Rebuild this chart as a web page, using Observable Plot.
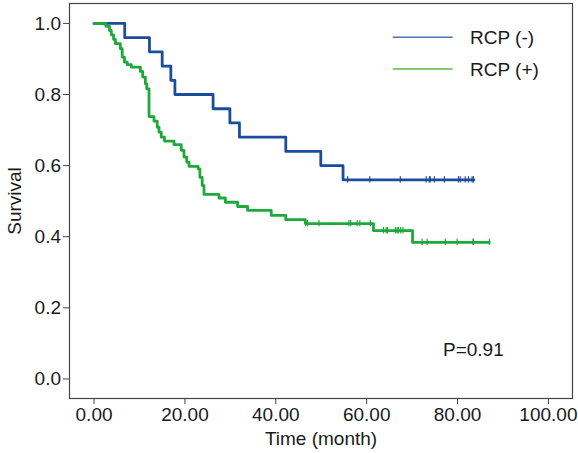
<!DOCTYPE html>
<html><head><meta charset="utf-8">
<script src="https://cdn.jsdelivr.net/npm/d3@7"></script>
<script src="https://cdn.jsdelivr.net/npm/@observablehq/plot@0.6"></script>
<style>body{margin:0;background:#fff} svg{display:block}</style>
</head><body><div id="chart"></div>
<script>
// RCP (-) group
const blueTimes = [0, 6.75, 12.2, 15.0, 16.9, 17.8, 26.2, 29.9, 32.0, 42.2, 49.9, 54.8, 83.6];
const blueSurv  = [1.0, 0.96, 0.92, 0.88, 0.84, 0.80, 0.76, 0.72, 0.68, 0.64, 0.60, 0.56, 0.56];
const blueCensor = [55.8, 60.7, 67.4, 73.1, 73.8, 74.0, 74.9, 77.1, 80.2, 80.6, 81.7, 82.4, 83.2, 83.5];

// RCP (+) group
const greenTimes = [0, 2.6, 3.4, 3.8, 4.3, 4.7, 5.8, 6.2, 6.7, 7.3, 8.2, 10.2, 10.7, 11.3, 11.6, 12.1, 13.2, 13.9, 14.3, 14.8, 15.5, 17.6, 19.2, 19.8, 20.4, 20.9, 22.9, 23.3, 23.8, 24.2, 27.5, 28.9, 31.6, 33.8, 39.0, 42.2, 46.5, 61.5, 70.1, 87.0];
const greenSurv  = [1.0, 0.992, 0.980, 0.968, 0.955, 0.943, 0.929, 0.905, 0.891, 0.884, 0.877, 0.865, 0.849, 0.830, 0.816, 0.738, 0.725, 0.708, 0.694, 0.680, 0.669, 0.659, 0.643, 0.624, 0.610, 0.598, 0.591, 0.567, 0.544, 0.519, 0.509, 0.497, 0.485, 0.474, 0.460, 0.448, 0.437, 0.417, 0.384, 0.384];
const greenCensor = [46.6, 47.0, 49.5, 56.1, 56.5, 57.9, 58.5, 60.8, 63.7, 64.3, 64.6, 66.3, 66.7, 67.0, 67.5, 68.0, 72.2, 73.3, 77.3, 79.9, 83.4, 83.5, 87.0];

const xTicks = [0, 20, 40, 60, 80, 100];
const yTicks = [0, 0.2, 0.4, 0.6, 0.8, 1.0];
const seriesNames = ["RCP (-)", "RCP (+)"];
const pText = "P=0.91";

const blueColor = "#1c4c9c", greenColor = "#1fa83c";
const blueLegend = "#4f73b3", greenLegend = "#62ba45";

function pts(times, surv) { return times.map((t, i) => ({t, s: surv[i]})); }
function survAt(times, surv, t) {
  let s = surv[0];
  for (let i = 0; i < times.length; i++) if (times[i] <= t) s = surv[i];
  return s;
}
function cens(cs, times, surv) { return cs.map(t => ({t, s: survAt(times, surv, t)})); }

const blueData = pts(blueTimes, blueSurv), greenData = pts(greenTimes, greenSurv);
const blueC = cens(blueCensor, blueTimes, blueSurv), greenC = cens(greenCensor, greenTimes, greenSurv);
const h = 0.009;

const font = "Liberation Sans, Arial, Helvetica, sans-serif";
const fs = "19px";
const chart = Plot.plot({
  width: 578, height: 453,
  marginLeft: 69, marginRight: 6, marginTop: 3, marginBottom: 55,
  style: {fontFamily: font, fontSize: fs, color: "#1a1a1a", background: "#fff"},
  x: {domain: [-5.4, 105.3]},
  y: {domain: [-0.055, 1.056]},
  marks: [
    Plot.axisX({ticks: xTicks, tickFormat: d => d.toFixed(2), tickSize: 6, tickPadding: 3, stroke: "#444", fill: "#1a1a1a",
      label: "Time (month)", labelAnchor: "center", labelArrow: "none", labelOffset: 46}),
    Plot.axisY({ticks: yTicks, tickFormat: d => d.toFixed(1), tickSize: 6, tickPadding: 2.5, stroke: "#444", fill: "#1a1a1a",
      label: "Survival", labelAnchor: "center", labelArrow: "none", labelOffset: 62}),
    Plot.line(blueData, {x: "t", y: "s", curve: "step-after", stroke: blueColor, strokeWidth: 2.8}),
    Plot.ruleX(blueC, {x: "t", y1: d => d.s - h, y2: d => d.s + h, stroke: blueColor, strokeWidth: 1.2}),
    Plot.line(greenData, {x: "t", y: "s", curve: "step-after", stroke: greenColor, strokeWidth: 2.8}),
    Plot.ruleX(greenC, {x: "t", y1: d => d.s - h, y2: d => d.s + h, stroke: greenColor, strokeWidth: 1.2}),
    Plot.frame({stroke: "#444", strokeWidth: 1.2})
  ]
});
document.getElementById("chart").appendChild(chart);

const svg = d3.select(chart);
const legendY = [37.3, 69];
const legendColors = [blueLegend, greenLegend];
seriesNames.forEach((name, i) => {
  svg.append("line").attr("x1", 392.7).attr("x2", 452.7).attr("y1", legendY[i]).attr("y2", legendY[i])
    .attr("stroke", legendColors[i]).attr("stroke-width", 1.6);
  svg.append("text").attr("x", 470).attr("y", legendY[i] + 6.6).text(name)
    .attr("text-anchor", "start")
    .attr("font-family", font).attr("font-size", fs).attr("fill", "#1a1a1a");
});
svg.append("text").attr("x", 443).attr("y", 356).text(pText)
  .attr("text-anchor", "start")
  .attr("font-family", font).attr("font-size", fs).attr("fill", "#1a1a1a");
</script>
</body></html>
